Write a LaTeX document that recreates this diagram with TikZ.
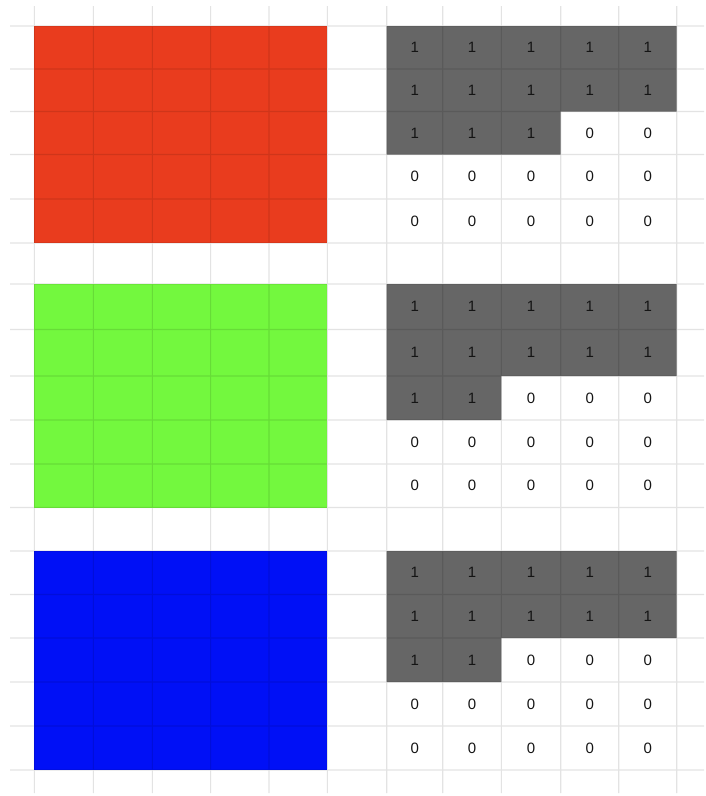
\documentclass[tikz,border=0pt]{standalone}
\usepackage{fontspec}
\setmainfont{Liberation Sans}
\definecolor{cred}{RGB}{233,60,30}
\definecolor{cgreen}{RGB}{115,248,62}
\definecolor{cblue}{RGB}{0,16,246}
\definecolor{cgray}{RGB}{102,102,102}
\begin{document}
\begin{tikzpicture}[x=1pt,y=-1pt,
  digit/.style={font=\fontsize{15}{18}\selectfont, text=black!92, inner sep=0pt},
  gridline/.style={draw=black, line width=1.1pt}]
\useasboundingbox (0,0) rectangle (705,796);
\def\xs{{34.3,93.3,152.3,210.6,269,327.3,386.7,442.7,501.3,560.7,618.7,676.7}}
\def\ys{{26,69,111.5,154.5,199,243,284,329.5,376,420,464,507.5,551,594.5,638,682,726,770}}
% colour blocks
\fill[cred] (34.3,26) rectangle (327.3,243);
\fill[cgreen] (34.3,284) rectangle (327.3,507.5);
\fill[cblue] (34.3,551) rectangle (327.3,770);
% gray regions
\fill[cgray] (386.7,26) -- (676.7,26) -- (676.7,111.5) -- (560.7,111.5) -- (560.7,154.5) -- (386.7,154.5) -- cycle;
\fill[cgray] (386.7,284) -- (676.7,284) -- (676.7,376) -- (501.3,376) -- (501.3,420) -- (386.7,420) -- cycle;
\fill[cgray] (386.7,551) -- (676.7,551) -- (676.7,638) -- (501.3,638) -- (501.3,682) -- (386.7,682) -- cycle;
% grid lines
\begin{scope}[transparency group, opacity=0.11]
\foreach \i in {0,...,11}{
  \pgfmathsetmacro{\xx}{\xs[\i]}
  \draw[gridline] (\xx,6) -- (\xx,793);
}
\foreach \j in {0,...,17}{
  \pgfmathsetmacro{\yy}{\ys[\j]}
  \draw[gridline] (10,\yy) -- (704,\yy);
}
\end{scope}
% digits
\foreach \b/\r/\lim in {0/0/3,1/6/2,2/12/2}{
  \foreach \rr in {0,...,4}{
    \foreach \c in {0,...,4}{
      \pgfmathsetmacro{\xa}{\xs[\c+6]}
      \pgfmathsetmacro{\xb}{\xs[\c+7]}
      \pgfmathsetmacro{\ya}{\ys[\r+\rr]}
      \pgfmathsetmacro{\yb}{\ys[\r+\rr+1]}
      \pgfmathtruncatemacro{\val}{(\rr<2) || (\rr==2 && \c<\lim) ? 1 : 0}
      \node[digit] (d-\b-\rr-\c) at ({(\xa+\xb)/2},{(\ya+\yb)/2}) {\val};
    }
  }
}
\end{tikzpicture}
\end{document}
